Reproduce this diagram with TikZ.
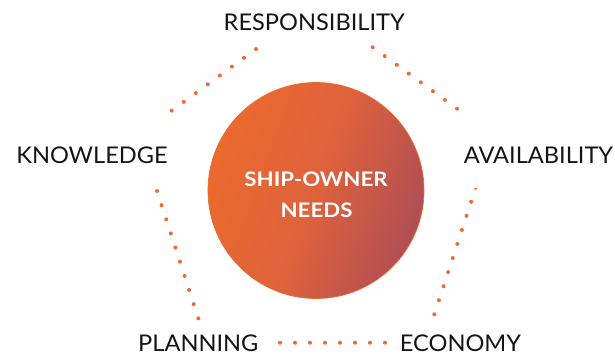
\documentclass[tikz,border=0pt]{standalone}
\usepackage{fontspec}
\setmainfont{Lato}
\newfontfamily\lblfont[FakeStretch=1.026]{Lato}
\newfontfamily\ctrfont[FakeStretch=1.114]{Lato}
\usetikzlibrary{calc}
\definecolor{dotc}{RGB}{238,106,52}
\definecolor{circA}{RGB}{236,106,46}
\definecolor{circM}{RGB}{222,98,60}
\definecolor{circB}{RGB}{176,78,84}
\definecolor{txt}{RGB}{20,20,20}
\tikzset{
  lbl/.style={anchor=base, inner sep=0pt, text=txt, font=\lblfont\fontsize{23}{25}\selectfont},
  ctr/.style={anchor=base, inner sep=0pt, text=white, font=\ctrfont\bfseries\fontsize{20}{22}\selectfont},
  dotfill/.style={fill=dotc},
}
\newcommand{\dotline}[3]{%
  \foreach \i in {0,...,#3} {\fill[dotfill] ($(#1)!\i/#3!(#2)$) circle (2pt);}%
}
\begin{document}
\begin{tikzpicture}[x=1pt,y=-1pt]
\useasboundingbox (0,0) rectangle (615,356);
% circle
\shade[left color=circA, right color=circB, middle color=circM, shading angle=70]
  (316,190.5) circle (108);
\draw[circA, line width=0.7pt] (316,190.5) circle (108);
\coordinate (hub) at (316,190.5);
% labels
\node[lbl] (resp) at (314.2,30) {RESPONSIBILITY};
\node[lbl] (know) at (92,163.3) {KNOWLEDGE};
\node[lbl] (avail) at (538.5,163.3) {AVAILABILITY};
\node[lbl] (plan) at (198.3,351.7) {PLANNING};
\node[lbl] (econ) at (460.5,351.7) {ECONOMY};
\node[ctr] (ship) at (316,186) {SHIP-OWNER};
\node[ctr] (needs) at (316.5,217.7) {NEEDS};
% dotted connectors
\coordinate (tl1) at (171.7,110.7); \coordinate (tl2) at (256,49);
\coordinate (tr1) at (372.7,47.3); \coordinate (tr2) at (457,108.7);
\coordinate (l1) at (157,191); \coordinate (l2) at (198.3,318.3);
\coordinate (r1) at (475.7,187.7); \coordinate (r2) at (434.3,314.3);
\coordinate (b1) at (280,342.7); \coordinate (b2) at (385,342.7);
\dotline{tl1}{tl2}{7}
\dotline{tr1}{tr2}{7}
\dotline{l1}{l2}{9}
\dotline{b1}{b2}{7}
\foreach \i in {1,...,9} {\fill[dotfill] ($(r1)!\i/9!(r2)$) circle (2pt);}
\begin{scope}
  \clip (470,188.4) rectangle (482,192);
  \fill[dotfill] (r1) circle (2pt);
\end{scope}
\end{tikzpicture}
\end{document}
